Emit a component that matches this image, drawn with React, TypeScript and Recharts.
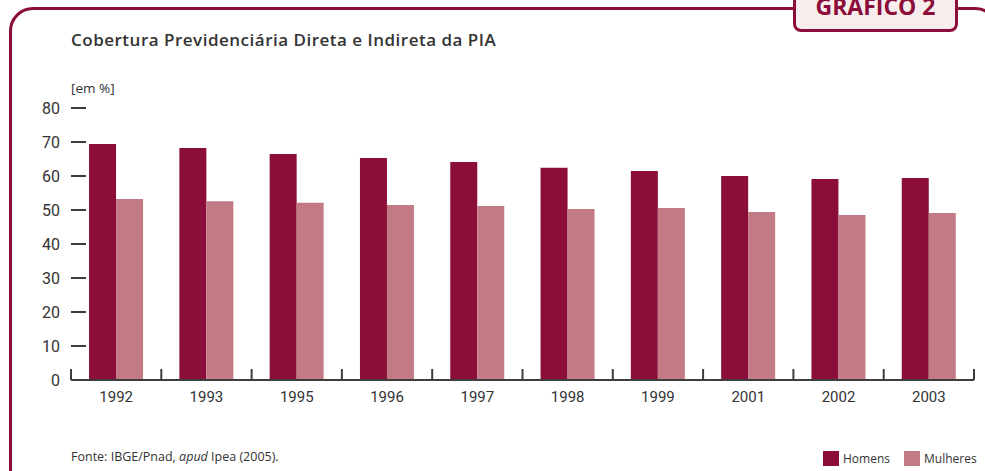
import React from 'react';
import { BarChart, Bar, XAxis, YAxis } from 'recharts';

// Dados do gráfico (valores em %)
const anos = ['1992', '1993', '1995', '1996', '1997', '1998', '1999', '2001', '2002', '2003'];
const homens = [69.4, 68.2, 66.5, 65.3, 64.1, 62.4, 61.5, 60.0, 59.1, 59.4];
const mulheres = [53.2, 52.6, 52.1, 51.5, 51.2, 50.3, 50.6, 49.4, 48.5, 49.1];
const yTicks = [0, 10, 20, 30, 40, 50, 60, 70, 80];

const data = anos.map((ano, i) => ({ ano, homens: homens[i], mulheres: mulheres[i] }));

const VINHO = '#8B0E3A';
const ROSA = '#C27B84';
const TEXTO = '#333333';
const EIXO = '#3d3d3d';

const YTick = (props: any) => {
  const { x, y, payload } = props;
  return (
    <g>
      {payload.value !== 0 && (
        <line x1={x} x2={x + 15} y1={y} y2={y} stroke={EIXO} strokeWidth={2} />
      )}
      <text x={x - 11} y={y} dy={5.5} textAnchor="end" fill={TEXTO} fontSize={16} fontFamily="Roboto">
        {payload.value}
      </text>
    </g>
  );
};

const XTick = (props: any) => {
  const { x, y, payload, index } = props;
  const half = payload.offset ?? 45.15;
  return (
    <g>
      <line x1={x - half} x2={x - half} y1={y} y2={y - 11} stroke={EIXO} strokeWidth={2} />
      {index === anos.length - 1 && (
        <line x1={x + half} x2={x + half} y1={y} y2={y - 11} stroke={EIXO} strokeWidth={2} />
      )}
      <text x={x} y={y + 22} textAnchor="middle" fill={TEXTO} fontSize={15} fontFamily="Roboto">
        {payload.value}
      </text>
    </g>
  );
};

const App: React.FC = () => {
  return (
    <div
      style={{
        position: 'absolute',
        left: 0,
        top: 0,
        width: 985,
        height: 471,
        overflow: 'hidden',
        background: '#fff',
        fontFamily: '"Open Sans", sans-serif',
      }}
    >
      {/* moldura */}
      <div
        style={{
          position: 'absolute',
          left: 9,
          top: 7,
          width: 990,
          height: 520,
          border: `3.5px solid ${VINHO}`,
          borderRadius: 24,
          boxSizing: 'border-box',
        }}
      />
      <div
        style={{
          position: 'absolute',
          left: 793,
          top: -20,
          width: 165,
          height: 52,
          border: `3px solid ${VINHO}`,
          borderRadius: 8,
          background: '#F7EDED',
          boxSizing: 'border-box',
        }}
      />
      <div
        style={{
          position: 'absolute',
          left: 793,
          width: 165,
          top: -9,
          textAlign: 'center',
          fontWeight: 700,
          fontSize: 23,
          lineHeight: '30px',
          color: VINHO,
        }}
      >
        GRÁFICO 2
      </div>

      <div
        style={{
          position: 'absolute',
          left: 71,
          top: 28,
          fontSize: 17,
          letterSpacing: 0.5,
          fontWeight: 600,
          color: TEXTO,
          whiteSpace: 'nowrap',
        }}
      >
        Cobertura Previdenciária Direta e Indireta da PIA
      </div>
      <div style={{ position: 'absolute', left: 71, top: 79, fontSize: 13.5, color: TEXTO }}>[em %]</div>

      <div style={{ position: 'absolute', left: 0, top: 0 }}>
        <BarChart
          width={985}
          height={471}
          data={data}
          margin={{ top: 108, right: 11, left: 8, bottom: 61 }}
          barCategoryGap="20%"
          barGap={0}
        >
          <YAxis
            domain={[0, 80]}
            ticks={yTicks}
            width={63}
            axisLine={false}
            tickLine={false}
            tickSize={0}
            tickMargin={0}
            tick={<YTick />}
            interval={0}
          />
          <XAxis
            dataKey="ano"
            height={30}
            axisLine={{ stroke: EIXO, strokeWidth: 2 }}
            tickLine={false}
            tickSize={0}
            tickMargin={0}
            tick={<XTick />}
            interval={0}
          />
          <Bar dataKey="homens" fill={VINHO} isAnimationActive={false} />
          <Bar dataKey="mulheres" fill={ROSA} isAnimationActive={false} />
        </BarChart>
      </div>

      <div style={{ position: 'absolute', left: 71, top: 448, fontSize: 12.5, color: TEXTO, whiteSpace: 'nowrap' }}>
        Fonte: IBGE/Pnad, <i>apud</i> Ipea (2005).
      </div>

      <div
        style={{
          position: 'absolute',
          left: 823,
          top: 450,
          display: 'flex',
          alignItems: 'center',
          fontSize: 12,
          color: TEXTO,
          whiteSpace: 'nowrap',
        }}
      >
        <span style={{ width: 16, height: 15, background: VINHO, display: 'inline-block', marginRight: 4 }} />
        <span style={{ marginRight: 14 }}>Homens</span>
        <span style={{ width: 16, height: 15, background: ROSA, display: 'inline-block', marginRight: 4 }} />
        <span>Mulheres</span>
      </div>
    </div>
  );
};

export default App;
